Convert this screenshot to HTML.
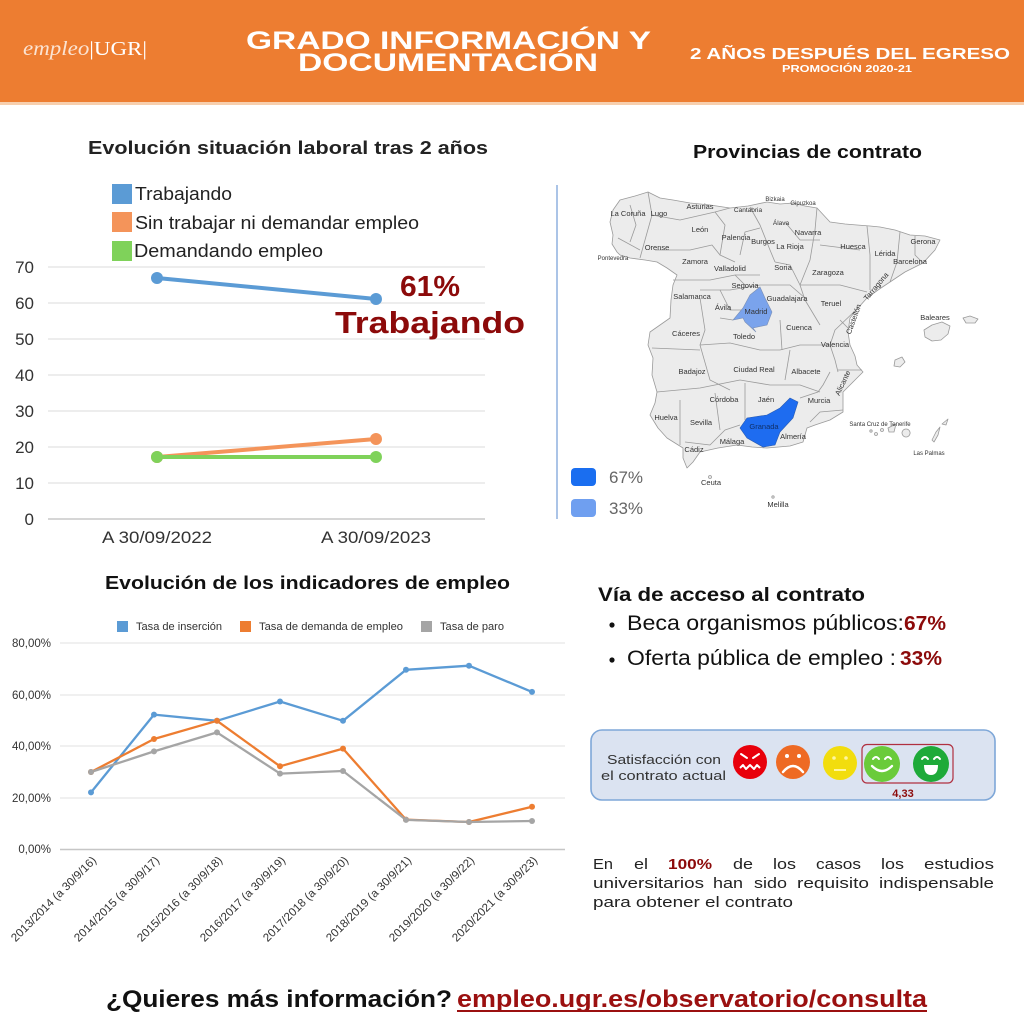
<!DOCTYPE html>
<html><head><meta charset="utf-8">
<style>
html,body{margin:0;padding:0;background:#fff;}
svg{display:block;}
</style></head>
<body>
<svg width="1024" height="1024" viewBox="0 0 1024 1024" xmlns="http://www.w3.org/2000/svg" font-family="Liberation Sans, sans-serif">
<rect x="0" y="0" width="1024" height="1024" fill="#ffffff"/>
<!-- HEADER -->
<rect x="0" y="0" width="1024" height="102" fill="#ED7D31"/>
<rect x="0" y="102" width="1024" height="3" fill="#f7cfae"/>
<text x="23" y="55" font-family="Liberation Serif, serif" font-style="italic" font-size="20" fill="#fbe3d2" textLength="124" lengthAdjust="spacingAndGlyphs">empleo<tspan font-style="normal" fill="#fff">|</tspan><tspan font-style="normal" fill="#fff">UGR</tspan><tspan font-style="normal" fill="#fff">|</tspan></text>
<text x="246" y="49" font-size="25" font-weight="bold" fill="#fff" textLength="405" lengthAdjust="spacingAndGlyphs">GRADO INFORMACIÓN Y</text>
<text x="298" y="71" font-size="25" font-weight="bold" fill="#fff" textLength="300" lengthAdjust="spacingAndGlyphs">DOCUMENTACIÓN</text>
<text x="690" y="59" font-size="16" font-weight="bold" fill="#fff" textLength="320" lengthAdjust="spacingAndGlyphs">2 AÑOS DESPUÉS DEL EGRESO</text>
<text x="782" y="72" font-size="10" font-weight="bold" fill="#fff" textLength="130" lengthAdjust="spacingAndGlyphs">PROMOCIÓN 2020-21</text>

<!-- CHART 1 -->
<text x="88" y="154" font-size="18" font-weight="bold" fill="#222" textLength="400" lengthAdjust="spacingAndGlyphs">Evolución situación laboral tras 2 años</text>
<rect x="112" y="184" width="20" height="20" fill="#5b9bd5"/>
<rect x="112" y="212" width="20" height="20" fill="#f4945a"/>
<rect x="112" y="241" width="20" height="20" fill="#7fd25a"/>
<text x="135" y="200" font-size="18" fill="#222" textLength="97" lengthAdjust="spacingAndGlyphs">Trabajando</text>
<text x="135" y="229" font-size="18" fill="#222" textLength="284" lengthAdjust="spacingAndGlyphs">Sin trabajar ni demandar empleo</text>
<text x="134" y="257" font-size="18" fill="#222" textLength="189" lengthAdjust="spacingAndGlyphs">Demandando empleo</text>
<g stroke="#e2e2e2" stroke-width="1.2">
<line x1="48" y1="267" x2="485" y2="267"/>
<line x1="48" y1="303" x2="485" y2="303"/>
<line x1="48" y1="339" x2="485" y2="339"/>
<line x1="48" y1="375" x2="485" y2="375"/>
<line x1="48" y1="411" x2="485" y2="411"/>
<line x1="48" y1="447" x2="485" y2="447"/>
<line x1="48" y1="483" x2="485" y2="483"/>
</g>
<line x1="48" y1="519" x2="485" y2="519" stroke="#c8c8c8" stroke-width="1.5"/>
<g font-size="17" fill="#333" text-anchor="end">
<text x="34" y="273">70</text>
<text x="34" y="309">60</text>
<text x="34" y="345">50</text>
<text x="34" y="381">40</text>
<text x="34" y="417">30</text>
<text x="34" y="453">20</text>
<text x="34" y="489">10</text>
<text x="34" y="525">0</text>
</g>
<g font-size="17" fill="#333" text-anchor="middle">
<text x="157" y="543" textLength="110" lengthAdjust="spacingAndGlyphs">A 30/09/2022</text>
<text x="376" y="543" textLength="110" lengthAdjust="spacingAndGlyphs">A 30/09/2023</text>
</g>
<g stroke-width="4" stroke-linecap="round">
<line x1="157" y1="278" x2="376" y2="299" stroke="#5b9bd5"/>
<line x1="157" y1="457" x2="376" y2="439" stroke="#f4945a"/>
<line x1="157" y1="457" x2="376" y2="457" stroke="#7fd25a"/>
</g>
<circle cx="157" cy="278" r="6" fill="#5b9bd5"/>
<circle cx="376" cy="299" r="6" fill="#5b9bd5"/>
<circle cx="157" cy="457" r="6" fill="#f4945a"/>
<circle cx="376" cy="439" r="6" fill="#f4945a"/>
<circle cx="157" cy="457" r="6" fill="#7fd25a"/>
<circle cx="376" cy="457" r="6" fill="#7fd25a"/>
<text x="400" y="296" font-size="29" font-weight="bold" fill="#8c0a0a" textLength="60" lengthAdjust="spacingAndGlyphs">61%</text>
<text x="335" y="333" font-size="31" font-weight="bold" fill="#8c0a0a" textLength="190" lengthAdjust="spacingAndGlyphs">Trabajando</text>

<!-- vertical divider -->
<line x1="557" y1="185" x2="557" y2="519" stroke="#8fb0df" stroke-width="1.5"/>

<!-- MAP -->
<text x="693" y="158" font-size="18" font-weight="bold" fill="#111" textLength="229" lengthAdjust="spacingAndGlyphs">Provincias de contrato</text>
<g stroke="#9a9a9a" stroke-width="0.8" fill="#ececec" stroke-linejoin="round">
<path d="M613,210 L620,200 L635,196 L648,192 L660,198 L673,200 L690,203 L710,205 L730,208 L748,206 L767,202 L780,204 L793,203 L805,206 L817,208 L830,222 L845,224 L857,225 L870,226 L880,227 L895,230 L910,235 L925,236 L940,240 L935,250 L923,263 L905,272 L890,282 L878,290 L867,298 L858,308 L850,318 L848,332 L850,345 L855,356 L857,365 L863,372 L855,380 L843,392 L843,402 L843,412 L830,420 L815,425 L807,428 L803,442 L790,446 L767,448 L752,447 L737,445 L718,448 L700,452 L693,462 L687,468 L683,458 L683,448 L675,443 L667,438 L658,428 L650,415 L655,403 L657,392 L652,375 L653,358 L648,345 L650,332 L660,325 L670,318 L671,300 L673,285 L677,275 L667,268 L657,262 L645,260 L630,258 L620,255 L617,252 L612,244 L613,235 L610,222 Z"/>
<path d="M924,330 L932,325 L942,322 L950,326 L948,334 L941,340 L932,341 L925,337 Z"/>
<path d="M963,318 L970,316 L978,319 L975,323 L966,323 Z"/>
<path d="M895,360 L902,357 L905,362 L900,367 L894,366 Z"/>
<path d="M906,437 A4,4 0 1,1 906.1,437 Z"/>
<path d="M932,440 L936,432 L940,427 L938,435 L934,442 Z"/>
<path d="M942,424 L948,419 L946,425 Z"/>
<path d="M888,428 L896,424 L894,432 L889,432 Z"/>
<circle cx="876" cy="434" r="1.5"/>
<circle cx="882" cy="430" r="1.5"/>
<circle cx="871" cy="431" r="1.2"/>
<circle cx="710" cy="477" r="1.5"/>
<circle cx="773" cy="497" r="1.2"/>
</g>
<g stroke="#9a9a9a" stroke-width="0.8" fill="none" stroke-linejoin="round">
<polyline points="648,192 652,215 645,240 640,258"/>
<polyline points="630,205 636,225 630,242"/>
<polyline points="618,238 640,250"/>
<polyline points="652,215 680,220 715,212 730,208"/>
<polyline points="655,250 690,250 712,245 720,255"/>
<polyline points="715,212 725,225 720,255 735,262"/>
<polyline points="750,207 760,225 770,250 775,262"/>
<polyline points="785,222 800,240 820,240"/>
<polyline points="817,208 815,230 810,260 800,285 805,300 820,325"/>
<polyline points="867,226 870,255 870,290"/>
<polyline points="820,245 860,250"/>
<polyline points="800,285 840,285 867,292"/>
<polyline points="900,232 897,262 890,282"/>
<polyline points="915,236 915,255 923,263"/>
<polyline points="858,308 835,330 830,345 835,360 838,372"/>
<polyline points="840,320 850,330"/>
<polyline points="838,370 862,370"/>
<polyline points="830,372 823,385 818,392 800,398"/>
<polyline points="843,410 820,412 810,422"/>
<polyline points="700,290 730,290 760,285 790,285 805,298"/>
<polyline points="720,318 733,320"/>
<polyline points="700,345 730,343 760,350 780,350 800,345 830,345"/>
<polyline points="780,320 782,350"/>
<polyline points="790,350 785,380"/>
<polyline points="700,298 705,330 700,345 710,380 730,390"/>
<polyline points="652,348 700,350"/>
<polyline points="657,392 700,388 740,380 770,385 800,385 820,392"/>
<polyline points="745,383 745,420"/>
<polyline points="680,400 680,445"/>
<polyline points="715,393 720,430"/>
<polyline points="685,442 710,445 725,430 740,425"/>
<polyline points="673,280 710,280 735,275 760,275"/>
<polyline points="720,290 730,310 745,310"/>
<polyline points="735,275 745,285"/>
<polyline points="775,262 790,265 800,285"/>
<polyline points="740,255 745,232 760,228"/>
</g>
<path d="M760,287 L765,298 L772,312 L767,325 L753,328 L756,332 L745,322 L743,318 L733,320 L743,308 L750,295 Z" fill="#7aa3ec" stroke="#7a8fb5" stroke-width="0.6"/>
<path d="M790,398 L798,402 L793,418 L780,432 L775,445 L763,447 L747,438 L740,428 L747,418 L767,415 L780,408 Z" fill="#1e6cf0" stroke="#2a5bb0" stroke-width="0.6"/>
<g font-size="7.5" fill="#333" text-anchor="middle">
<text x="628" y="216">La Coruña</text>
<text x="659" y="216">Lugo</text>
<text x="700" y="209">Asturias</text>
<text x="748" y="212" font-size="6.5">Cantabria</text>
<text x="775" y="201" font-size="6">Bizkaia</text>
<text x="803" y="205" font-size="6">Gipuzkoa</text>
<text x="781" y="225" font-size="6.5">Álava</text>
<text x="808" y="235">Navarra</text>
<text x="700" y="232">León</text>
<text x="736" y="240">Palencia</text>
<text x="763" y="244">Burgos</text>
<text x="790" y="249">La Rioja</text>
<text x="853" y="249">Huesca</text>
<text x="885" y="256">Lérida</text>
<text x="923" y="244">Gerona</text>
<text x="910" y="264">Barcelona</text>
<text x="657" y="250">Orense</text>
<text x="613" y="260" font-size="6">Pontevedra</text>
<text x="695" y="264">Zamora</text>
<text x="730" y="271">Valladolid</text>
<text x="783" y="270">Soria</text>
<text x="828" y="275">Zaragoza</text>
<text x="745" y="288">Segovia</text>
<text x="692" y="299">Salamanca</text>
<text x="787" y="301">Guadalajara</text>
<text x="831" y="306">Teruel</text>
<text x="723" y="310">Ávila</text>
<text x="756" y="314">Madrid</text>
<text x="935" y="320">Baleares</text>
<text x="686" y="336">Cáceres</text>
<text x="744" y="339">Toledo</text>
<text x="799" y="330">Cuenca</text>
<text x="835" y="347">Valencia</text>
<text x="692" y="374">Badajoz</text>
<text x="754" y="372">Ciudad Real</text>
<text x="806" y="374">Albacete</text>
<text x="724" y="402">Córdoba</text>
<text x="766" y="402">Jaén</text>
<text x="819" y="403">Murcia</text>
<text x="666" y="420">Huelva</text>
<text x="701" y="425">Sevilla</text>
<text x="764" y="429" fill="#10306a">Granada</text>
<text x="793" y="439">Almería</text>
<text x="732" y="444">Málaga</text>
<text x="694" y="452">Cádiz</text>
<text x="711" y="485">Ceuta</text>
<text x="778" y="507">Melilla</text>
<text x="880" y="426" font-size="6">Santa Cruz de Tenerife</text>
<text x="929" y="455" font-size="6">Las Palmas</text>
<text x="878" y="288" transform="rotate(-50 878 288)">Tarragona</text>
<text x="856" y="320" transform="rotate(-70 856 320)">Castellón</text>
<text x="845" y="384" transform="rotate(-65 845 384)">Alicante</text>
</g>
<rect x="571" y="468" width="25" height="18" rx="4" fill="#1a6ef0"/>
<rect x="571" y="499" width="25" height="18" rx="4" fill="#6f9ff0"/>
<text x="609" y="483" font-size="17" fill="#666">67%</text>
<text x="609" y="514" font-size="17" fill="#666">33%</text>

<!-- CHART 2 -->
<text x="105" y="589" font-size="18" font-weight="bold" fill="#111" textLength="405" lengthAdjust="spacingAndGlyphs">Evolución de los indicadores de empleo</text>
<rect x="117" y="621" width="11" height="11" fill="#5b9bd5"/>
<text x="136" y="630" font-size="11" fill="#333" textLength="86" lengthAdjust="spacingAndGlyphs">Tasa de inserción</text>
<rect x="240" y="621" width="11" height="11" fill="#ED7D31"/>
<text x="259" y="630" font-size="11" fill="#333" textLength="144" lengthAdjust="spacingAndGlyphs">Tasa de demanda de empleo</text>
<rect x="421" y="621" width="11" height="11" fill="#a5a5a5"/>
<text x="440" y="630" font-size="11" fill="#333" textLength="64" lengthAdjust="spacingAndGlyphs">Tasa de paro</text>
<g stroke="#e0e0e0" stroke-width="1">
<line x1="60" y1="643" x2="565" y2="643"/>
<line x1="60" y1="695" x2="565" y2="695"/>
<line x1="60" y1="746" x2="565" y2="746"/>
<line x1="60" y1="798" x2="565" y2="798"/>
</g>
<line x1="60" y1="849.5" x2="565" y2="849.5" stroke="#c6c6c6" stroke-width="1.5"/>
<g font-size="11.5" fill="#333" text-anchor="end">
<text x="51" y="647">80,00%</text>
<text x="51" y="699">60,00%</text>
<text x="51" y="750">40,00%</text>
<text x="51" y="802">20,00%</text>
<text x="51" y="853">0,00%</text>
</g>
<g fill="none" stroke-width="2.3" stroke-linejoin="round">
<polyline stroke="#5b9bd5" points="91,792.4 154,714.6 217,720.8 280,701.5 343,720.8 406,669.8 469,665.7 532,691.9"/>
<polyline stroke="#ED7D31" points="91,772 154,739 217,720.8 280,766.3 343,748.6 406,819.6 469,822 532,806.8"/>
<polyline stroke="#a5a5a5" points="91,772 154,751.4 217,732.4 280,773.6 343,771 406,819.9 469,822 532,821"/>
</g>
<g fill="#5b9bd5">
<circle cx="91" cy="792.4" r="3"/><circle cx="154" cy="714.6" r="3"/><circle cx="217" cy="720.8" r="3"/><circle cx="280" cy="701.5" r="3"/><circle cx="343" cy="720.8" r="3"/><circle cx="406" cy="669.8" r="3"/><circle cx="469" cy="665.7" r="3"/><circle cx="532" cy="691.9" r="3"/>
</g>
<g fill="#ED7D31">
<circle cx="91" cy="772" r="3"/><circle cx="154" cy="739" r="3"/><circle cx="217" cy="720.8" r="3"/><circle cx="280" cy="766.3" r="3"/><circle cx="343" cy="748.6" r="3"/><circle cx="406" cy="819.6" r="3"/><circle cx="469" cy="822" r="3"/><circle cx="532" cy="806.8" r="3"/>
</g>
<g fill="#a5a5a5">
<circle cx="91" cy="772" r="3"/><circle cx="154" cy="751.4" r="3"/><circle cx="217" cy="732.4" r="3"/><circle cx="280" cy="773.6" r="3"/><circle cx="343" cy="771" r="3"/><circle cx="406" cy="819.9" r="3"/><circle cx="469" cy="822" r="3"/><circle cx="532" cy="821" r="3"/>
</g>
<g font-size="11.5" fill="#333" text-anchor="end">
<text transform="translate(97,861) rotate(-45)" textLength="115" lengthAdjust="spacingAndGlyphs">2013/2014 (a 30/9/16)</text>
<text transform="translate(160,861) rotate(-45)" textLength="115" lengthAdjust="spacingAndGlyphs">2014/2015 (a 30/9/17)</text>
<text transform="translate(223,861) rotate(-45)" textLength="115" lengthAdjust="spacingAndGlyphs">2015/2016 (a 30/9/18)</text>
<text transform="translate(286,861) rotate(-45)" textLength="115" lengthAdjust="spacingAndGlyphs">2016/2017 (a 30/9/19)</text>
<text transform="translate(349,861) rotate(-45)" textLength="115" lengthAdjust="spacingAndGlyphs">2017/2018 (a 30/9/20)</text>
<text transform="translate(412,861) rotate(-45)" textLength="115" lengthAdjust="spacingAndGlyphs">2018/2019 (a 30/9/21)</text>
<text transform="translate(475,861) rotate(-45)" textLength="115" lengthAdjust="spacingAndGlyphs">2019/2020 (a 30/9/22)</text>
<text transform="translate(538,861) rotate(-45)" textLength="115" lengthAdjust="spacingAndGlyphs">2020/2021 (a 30/9/23)</text>
</g>

<!-- VIA DE ACCESO -->
<text x="598" y="601" font-size="19" font-weight="bold" fill="#111" textLength="267" lengthAdjust="spacingAndGlyphs">Vía de acceso al contrato</text>
<circle cx="612" cy="625" r="2.6" fill="#111"/>
<circle cx="612" cy="660" r="2.6" fill="#111"/>
<text x="627" y="630" font-size="21" fill="#111" textLength="277" lengthAdjust="spacingAndGlyphs">Beca organismos públicos:</text>
<text x="904" y="630" font-size="20" font-weight="bold" fill="#8c0a0a" textLength="42" lengthAdjust="spacingAndGlyphs">67%</text>
<text x="627" y="665" font-size="21" fill="#111" textLength="269" lengthAdjust="spacingAndGlyphs">Oferta pública de empleo :</text>
<text x="900" y="665" font-size="20" font-weight="bold" fill="#8c0a0a" textLength="42" lengthAdjust="spacingAndGlyphs">33%</text>

<!-- SATISFACCION -->
<rect x="591" y="730" width="404" height="70" rx="11" fill="#dbe3f1" stroke="#7ea7d8" stroke-width="1.6"/>
<text x="607" y="764" font-size="13" fill="#333" textLength="114" lengthAdjust="spacingAndGlyphs">Satisfacción con</text>
<text x="601" y="780" font-size="13" fill="#333" textLength="125" lengthAdjust="spacingAndGlyphs">el contrato actual</text>
<circle cx="750" cy="762" r="17" fill="#e8000b"/>
<path d="M741,754 L747,758 M759,754 L753,758" stroke="#fff" stroke-width="2" stroke-linecap="round"/>
<path d="M740,768 L743,765 L746,769 L750,765 L754,769 L757,765 L760,768" stroke="#fff" stroke-width="2" fill="none" stroke-linejoin="round"/>
<circle cx="793" cy="762" r="17" fill="#ee6a24"/>
<circle cx="787" cy="756" r="2" fill="#fff"/>
<circle cx="799" cy="756" r="2" fill="#fff"/>
<path d="M783,772 Q793,760 803,772" stroke="#fff" stroke-width="2.5" fill="none" stroke-linecap="round"/>
<circle cx="840" cy="763" r="17" fill="#f2dd0d"/>
<circle cx="834" cy="758" r="1.8" fill="#fff6a0"/>
<circle cx="846" cy="758" r="1.8" fill="#fff6a0"/>
<line x1="834" y1="770" x2="846" y2="770" stroke="#fff6a0" stroke-width="2"/>
<circle cx="882" cy="764" r="18" fill="#6acb3a"/>
<path d="M873,759 Q876,755 879,759 M885,759 Q888,755 891,759" stroke="#fff" stroke-width="2" fill="none" stroke-linecap="round"/>
<path d="M872,766 Q882,776 892,766" stroke="#fff" stroke-width="2.3" fill="none" stroke-linecap="round"/>
<circle cx="931" cy="764" r="18" fill="#1eaa39"/>
<path d="M922,759 Q925,755 928,759 M934,759 Q937,755 940,759" stroke="#fff" stroke-width="2" fill="none" stroke-linecap="round"/>
<path d="M924,765 L938,765 Q938,775 931,775 Q924,775 924,765 Z" fill="#fff"/>
<rect x="862" y="744.5" width="91" height="38.5" rx="5" fill="none" stroke="#b03040" stroke-width="1.2"/>
<text x="903" y="797" font-size="11" font-weight="bold" fill="#8c0a0a" text-anchor="middle">4,33</text>

<!-- PARAGRAPH -->
<g font-size="15" fill="#222">
<text x="593" y="869" textLength="20" lengthAdjust="spacingAndGlyphs">En</text>
<text x="634" y="869" textLength="14" lengthAdjust="spacingAndGlyphs">el</text>
<text x="668" y="869" textLength="44" lengthAdjust="spacingAndGlyphs" font-weight="bold" fill="#8c0a0a">100%</text>
<text x="733" y="869" textLength="20" lengthAdjust="spacingAndGlyphs">de</text>
<text x="773" y="869" textLength="23" lengthAdjust="spacingAndGlyphs">los</text>
<text x="816" y="869" textLength="45" lengthAdjust="spacingAndGlyphs">casos</text>
<text x="881" y="869" textLength="23" lengthAdjust="spacingAndGlyphs">los</text>
<text x="924" y="869" textLength="70" lengthAdjust="spacingAndGlyphs">estudios</text>
<text x="593" y="888" textLength="111" lengthAdjust="spacingAndGlyphs">universitarios</text>
<text x="713" y="888" textLength="30" lengthAdjust="spacingAndGlyphs">han</text>
<text x="754" y="888" textLength="33" lengthAdjust="spacingAndGlyphs">sido</text>
<text x="797" y="888" textLength="72" lengthAdjust="spacingAndGlyphs">requisito</text>
<text x="879" y="888" textLength="115" lengthAdjust="spacingAndGlyphs">indispensable</text>
<text x="593" y="907" textLength="200" lengthAdjust="spacingAndGlyphs">para obtener el contrato</text>
</g>

<!-- FOOTER -->
<text x="106" y="1007" font-size="24" font-weight="bold" fill="#111" textLength="346" lengthAdjust="spacingAndGlyphs">¿Quieres más información?</text>
<text x="457" y="1007" font-size="24" font-weight="bold" fill="#9b1010" textLength="470" lengthAdjust="spacingAndGlyphs">empleo.ugr.es/observatorio/consulta</text>
<line x1="457" y1="1011" x2="927" y2="1011" stroke="#9b1010" stroke-width="2"/>
</svg>
</body></html>
